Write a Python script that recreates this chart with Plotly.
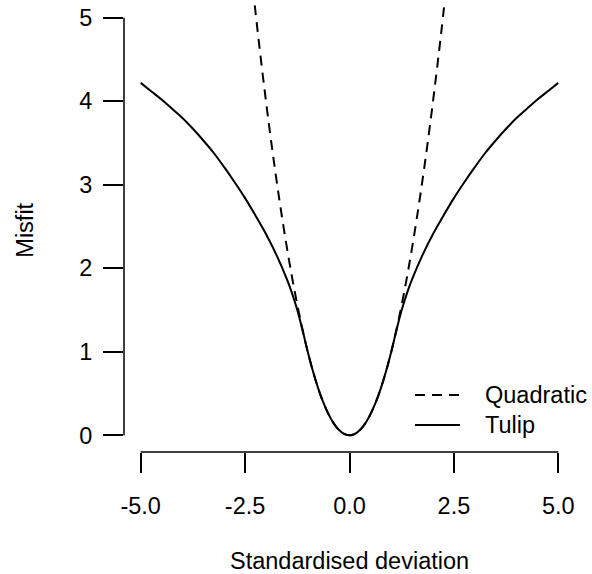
import plotly.graph_objects as go

# Standardised deviation values (x) and misfit
tulip_x = [-5.0, -4.75, -4.5, -4.25, -4.0, -3.75, -3.5, -3.25, -3.0, -2.75, -2.5, -2.25,
           -2.0, -1.75, -1.5, -1.375, -1.25, -1.125, -1.0, -0.875, -0.75, -0.625, -0.5,
           -0.375, -0.25, -0.125, 0.0, 0.125, 0.25, 0.375, 0.5, 0.625, 0.75, 0.875, 1.0,
           1.125, 1.25, 1.375, 1.5, 1.75, 2.0, 2.25, 2.5, 2.75, 3.0, 3.25, 3.5, 3.75, 4.0,
           4.25, 4.5, 4.75, 5.0]
tulip_y = [4.22, 4.12, 4.02, 3.91, 3.80, 3.67, 3.53, 3.38, 3.21, 3.03, 2.84, 2.63,
           2.41, 2.16, 1.87, 1.70, 1.50, 1.26, 1.0, 0.766, 0.5625, 0.39, 0.25,
           0.14, 0.0625, 0.0156, 0.0, 0.0156, 0.0625, 0.14, 0.25, 0.39, 0.5625, 0.766, 1.0,
           1.26, 1.50, 1.70, 1.87, 2.16, 2.41, 2.63, 2.84, 3.03, 3.21, 3.38, 3.53, 3.67, 3.80,
           3.91, 4.02, 4.12, 4.22]

quad_x = [-2.4, -2.2, -2.0, -1.8, -1.6, -1.4, -1.2, -1.0, -0.8, -0.6, -0.4, -0.2, 0.0,
          0.2, 0.4, 0.6, 0.8, 1.0, 1.2, 1.4, 1.6, 1.8, 2.0, 2.2, 2.4]
quad_y = [5.76, 4.84, 4.0, 3.24, 2.56, 1.96, 1.44, 1.0, 0.64, 0.36, 0.16, 0.04, 0.0,
          0.04, 0.16, 0.36, 0.64, 1.0, 1.44, 1.96, 2.56, 3.24, 4.0, 4.84, 5.76]

series_names = ["Quadratic", "Tulip"]
x_ticks = [-5.0, -2.5, 0.0, 2.5, 5.0]
x_tick_labels = ["-5.0", "-2.5", "0.0", "2.5", "5.0"]
y_ticks = [0, 1, 2, 3, 4, 5]
y_tick_labels = ["0", "1", "2", "3", "4", "5"]

FONT = "Liberation Sans, Arial, Helvetica, sans-serif"
FS = 23.5
DASH = "10px,7px"

fig = go.Figure()
fig.add_trace(go.Scatter(x=quad_x, y=quad_y, mode="lines", name=series_names[0],
                         showlegend=False, hoverinfo="skip",
                         line=dict(color="black", width=2, dash=DASH, shape="spline")))
fig.add_trace(go.Scatter(x=tulip_x, y=tulip_y, mode="lines", name=series_names[1],
                         showlegend=False, hoverinfo="skip",
                         line=dict(color="black", width=2, shape="spline")))

# legend drawn R-style (no box): line sample + label
leg_rows = [(0.1264, DASH), (0.0599, "solid")]
shapes = [
    dict(type="line", xref="x", yref="paper", x0=-5, x1=5, y0=0, y1=0,
         line=dict(color="black", width=1.5)),
    dict(type="line", xref="paper", yref="y", x0=0, x1=0, y0=0, y1=5,
         line=dict(color="black", width=1.5)),
]
annotations = [
    dict(text="Standardised deviation", xref="x", yref="paper", x=0, y=-0.2417,
         xanchor="center", yanchor="middle", showarrow=False, font=dict(size=FS)),
    dict(text="Misfit", xref="paper", yref="y", x=-0.2195, y=2.45, textangle=-90,
         xanchor="center", yanchor="middle", showarrow=False, font=dict(size=FS)),
]
for name, (yy, dash) in zip(series_names, leg_rows):
    shapes.append(dict(type="line", xref="paper", yref="paper", x0=0.6452, x1=0.745,
                       y0=yy, y1=yy, line=dict(color="black", width=2, dash=dash)))
    annotations.append(dict(text=name, xref="paper", yref="paper", x=0.796, y=yy,
                            xanchor="left", yanchor="middle", showarrow=False,
                            font=dict(size=FS)))

fig.update_layout(
    width=592, height=574,
    margin=dict(l=124, r=17, t=1, b=122),
    paper_bgcolor="white", plot_bgcolor="white",
    font=dict(family=FONT, size=FS, color="black"),
    showlegend=False,
    xaxis=dict(range=[-5.4, 5.4], tickvals=x_ticks, ticktext=x_tick_labels,
               showgrid=False, zeroline=False, showline=False,
               ticks="outside", ticklen=20, tickwidth=1.5, tickcolor="black",
               ticklabelstandoff=13, ticklabeloverflow="allow"),
    yaxis=dict(range=[-0.2, 5.2], tickvals=y_ticks, ticktext=y_tick_labels,
               showgrid=False, zeroline=False, showline=False,
               ticks="outside", ticklen=20, tickwidth=1.5, tickcolor="black",
               ticklabelstandoff=6, ticklabeloverflow="allow"),
    shapes=shapes,
    annotations=annotations,
)

fig.write_html(
    "out.html",
    config={"displayModeBar": False},
    post_script="document.body.style.margin='0';document.body.style.overflow='hidden';",
)
